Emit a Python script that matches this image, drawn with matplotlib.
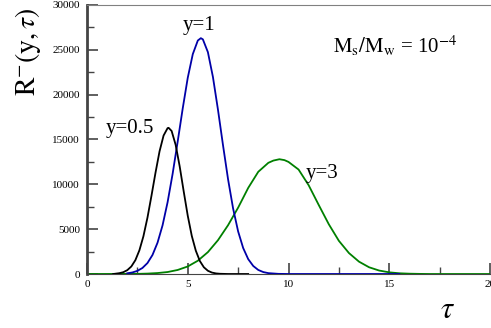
import matplotlib
matplotlib.use("Agg")
import matplotlib.pyplot as plt
from matplotlib.ticker import MultipleLocator

plt.rcParams['font.family'] = ['Liberation Serif', 'DejaVu Serif']
plt.rcParams['mathtext.fontset'] = 'stix'

# values
tau_05 = [1.3, 1.6, 1.8, 2.0, 2.2, 2.4, 2.6, 2.8, 3.0, 3.2, 3.4, 3.6, 3.8, 4.0, 4.05, 4.2, 4.4,
          4.6, 4.8, 5.0, 5.2, 5.4, 5.6, 5.8, 6.0, 6.2, 6.4, 6.6, 7.0, 8.0]
r_05 = [0, 90, 200, 430, 840, 1540, 2640, 4210, 6280, 8730, 11300, 13680, 15440, 16270, 16300,
        15950, 14400, 12000, 9200, 6500, 4250, 2600, 1450, 750, 360, 160, 65, 25, 0, 0]

tau_1 = [2.0, 2.25, 2.5, 2.75, 3.0, 3.25, 3.5, 3.75, 4.0, 4.25, 4.5, 4.75, 5.0, 5.25, 5.5, 5.65,
         5.75, 6.0, 6.25, 6.5, 6.75, 7.0, 7.25, 7.5, 7.75, 8.0, 8.25, 8.5, 8.75, 9.0, 9.5, 10.0, 15.5]
r_1 = [80, 170, 350, 670, 1220, 2120, 3490, 5430, 8010, 11180, 14760, 18460, 21880, 24520, 26040,
       26300, 26170, 24740, 21970, 18320, 14360, 10570, 7310, 4750, 2900, 1660, 895, 450, 215, 96,
       16, 0, 0]

tau_3 = [0, 2.5, 3.0, 3.5, 4.0, 4.5, 5.0, 5.5, 6.0, 6.5, 7.0, 7.5, 8.0, 8.5, 9.0, 9.25, 9.55,
         9.8, 10.0, 10.5, 11.0, 11.5, 12.0, 12.5, 13.0, 13.5, 14.0, 14.5, 15.0, 15.5, 16.0, 16.5,
         17.0, 20.0]
r_3 = [0, 15, 45, 105, 220, 450, 840, 1480, 2440, 3770, 5440, 7400, 9600, 11400, 12400, 12650,
       12800, 12700, 12500, 11650, 9900, 7700, 5550, 3700, 2335, 1375, 750, 385, 185, 80, 35, 12,
       0, 0]

fig = plt.figure(figsize=(4.91, 3.28), dpi=100)
ax = fig.add_axes([87 / 491, 1 - 274 / 328, 403 / 491, 269 / 328])

ax.plot(tau_3, r_3, color='#008000', lw=1.3, zorder=2)
ax.plot(tau_1, r_1, color='#0000a8', lw=1.3, zorder=3)
ax.plot(tau_05, r_05, color='black', lw=1.3, zorder=4)

ax.set_xlim(0, 20)
ax.set_ylim(0, 30000)
ax.xaxis.set_major_locator(MultipleLocator(5))
ax.xaxis.set_minor_locator(MultipleLocator(2.5))
ax.yaxis.set_major_locator(MultipleLocator(5000))
ax.yaxis.set_minor_locator(MultipleLocator(2500))
ax.tick_params(which='both', direction='in', top=False, right=False, labelsize=8, color='#444444')
ax.tick_params(which='major', length=8, width=1.2)
ax.tick_params(which='minor', length=5, width=1.0)
ax.tick_params(axis='y', pad=5)
ax.tick_params(axis='x', pad=4)

ax.spines['right'].set_visible(False)
ax.spines['top'].set_color('#808080')
ax.spines['left'].set_color('#444444')
ax.spines['left'].set_linewidth(2)
ax.spines['bottom'].set_color('#444444')

ax.text(2.13, 16220, 'y=0.5', fontsize=15, ha='center', va='center')
ax.text(5.58, 27660, 'y=1', fontsize=15, ha='center', va='center')
ax.text(11.66, 11220, 'y=3', fontsize=15, ha='center', va='center')
ax.text(15.3, 25440, r'$\mathrm{M_s/M_w}$ = 10$^{\mathrm{-4}}$', fontsize=15, ha='center', va='center')

fig.text(28 / 491, 1 - 52 / 328, r'$\mathrm{R}^{-}(\mathrm{y},\tau)$', fontsize=20, rotation=90,
         ha='center', va='center')
fig.text(448 / 491, 1 - 310 / 328, r'$\tau$', fontsize=22, ha='center', va='center')

fig.savefig('out.png', dpi=100)
